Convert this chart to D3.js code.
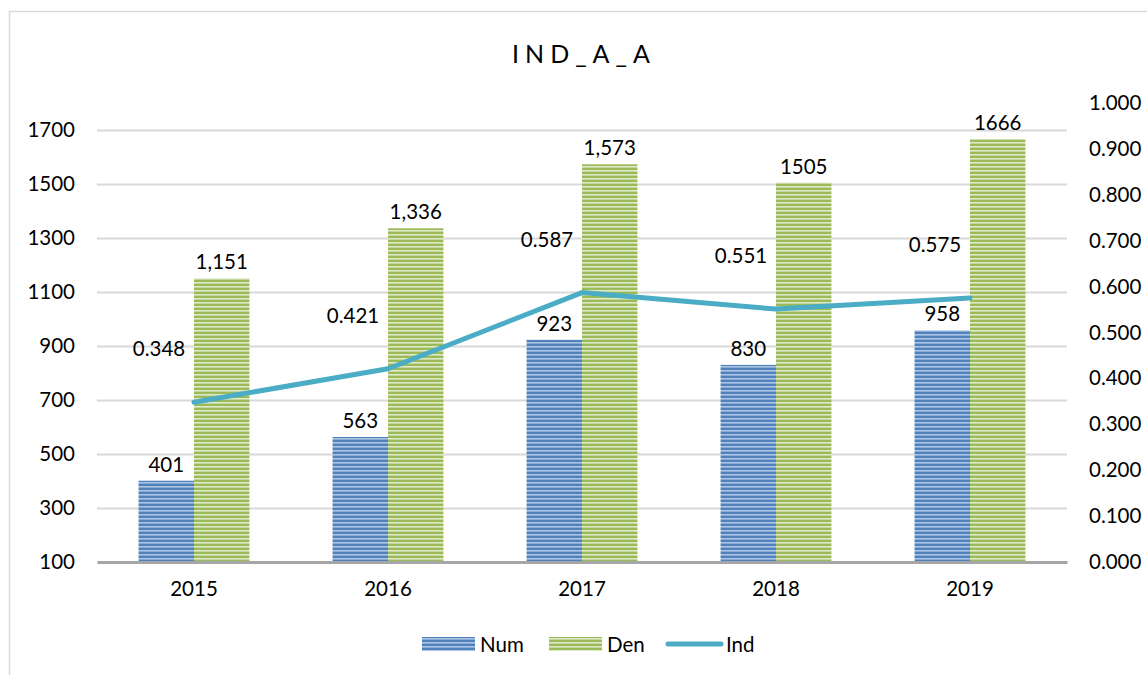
<!DOCTYPE html>
<html>
<head>
<meta charset="utf-8">
<script src="https://cdn.jsdelivr.net/npm/d3@7"></script>
<style>
  body { margin: 0; background: #fff; }
  svg { display: block; font-family: Lato, "Open Sans", sans-serif; }
</style>
</head>
<body>
<div id="chart"></div>
<script>
// Data
var years = ["2015", "2016", "2017", "2018", "2019"];
var numValues = [401, 563, 923, 830, 958];
var denValues = [1151, 1336, 1573, 1505, 1666];
var indValues = [0.348, 0.421, 0.587, 0.551, 0.575];
var numLabels = ["401", "563", "923", "830", "958"];
var denLabels = ["1,151", "1,336", "1,573", "1505", "1666"];
var indLabels = ["0.348", "0.421", "0.587", "0.551", "0.575"];
var leftTicks = [100, 300, 500, 700, 900, 1100, 1300, 1500, 1700];
var rightTicks = [0, 0.1, 0.2, 0.3, 0.4, 0.5, 0.6, 0.7, 0.8, 0.9, 1.0];

var width = 1147, height = 675;
var plotLeft = 97, plotRight = 1067, plotTop = 103, plotBottom = 562;
var fs = 20.5;

var svg = d3.select("#chart").append("svg")
  .attr("width", width)
  .attr("height", height);

// stripe patterns for the bars
var defs = svg.append("defs");
function stripes(id, dark, light) {
  var p = defs.append("pattern")
    .attr("id", id)
    .attr("patternUnits", "userSpaceOnUse")
    .attr("width", 8).attr("height", 4);
  p.append("rect").attr("width", 8).attr("height", 4).attr("fill", dark);
  p.append("rect").attr("y", 2).attr("width", 8).attr("height", 1.6).attr("fill", light);
}
stripes("numFill", "#4f81bd", "#adc5e3");
stripes("denFill", "#9bbb59", "#e0eacb");

// outer frame
svg.append("rect")
  .attr("x", 9.5).attr("y", 11.5)
  .attr("width", 1160).attr("height", 700)
  .attr("fill", "none")
  .attr("stroke", "#d9d9d9")
  .attr("stroke-width", 1.5);

// scales
var x = d3.scaleBand().domain(years).range([plotLeft, plotRight]);
var xInner = d3.scaleBand().domain(["num", "den"]).range([0, x.bandwidth()]).paddingOuter(0.75).paddingInner(0);
var yLeft = d3.scaleLinear().domain([100, 1800]).range([plotBottom, plotTop]);
var yRight = d3.scaleLinear().domain([0, 1]).range([plotBottom, plotTop]);

// gridlines
svg.append("g")
  .attr("transform", "translate(" + plotLeft + ",0)")
  .call(d3.axisLeft(yLeft).tickValues(leftTicks.slice(1)).tickSize(-(plotRight - plotLeft)).tickFormat(""))
  .call(function(g) {
    g.select(".domain").remove();
    g.selectAll("line").attr("stroke", "#d9d9d9").attr("stroke-width", 2);
  });

// left axis labels
svg.append("g")
  .attr("transform", "translate(" + plotLeft + ",0)")
  .call(d3.axisLeft(yLeft).tickValues(leftTicks).tickSize(0).tickPadding(22).tickFormat(d3.format("d")))
  .call(function(g) {
    g.select(".domain").remove();
    g.selectAll("text").attr("font-size", fs).attr("fill", "#000").attr("font-family", "Lato, sans-serif");
  });

// right axis labels
svg.append("g")
  .attr("transform", "translate(" + plotRight + ",0)")
  .call(d3.axisRight(yRight).tickValues(rightTicks).tickSize(0).tickPadding(22).tickFormat(d3.format(".3f")))
  .call(function(g) {
    g.select(".domain").remove();
    g.selectAll("text").attr("font-size", fs).attr("fill", "#000").attr("font-family", "Lato, sans-serif");
  });

// bars
var groups = svg.append("g").selectAll("g")
  .data(years)
  .join("g")
  .attr("transform", function(d) { return "translate(" + x(d) + ",0)"; });

groups.append("rect")
  .attr("x", xInner("num"))
  .attr("width", xInner.bandwidth())
  .attr("y", function(d, i) { return yLeft(numValues[i]); })
  .attr("height", function(d, i) { return plotBottom - yLeft(numValues[i]); })
  .attr("fill", "url(#numFill)");

groups.append("rect")
  .attr("x", xInner("den"))
  .attr("width", xInner.bandwidth())
  .attr("y", function(d, i) { return yLeft(denValues[i]); })
  .attr("height", function(d, i) { return plotBottom - yLeft(denValues[i]); })
  .attr("fill", "url(#denFill)");

groups.append("text")
  .attr("x", xInner("num") + xInner.bandwidth() / 2)
  .attr("y", function(d, i) { return yLeft(numValues[i]) - 9; })
  .attr("text-anchor", "middle")
  .attr("font-size", fs)
  .text(function(d, i) { return numLabels[i]; });

groups.append("text")
  .attr("x", xInner("den") + xInner.bandwidth() / 2)
  .attr("y", function(d, i) { return yLeft(denValues[i]) - 9; })
  .attr("text-anchor", "middle")
  .attr("font-size", fs)
  .text(function(d, i) { return denLabels[i]; });

// x axis baseline + labels
svg.append("g")
  .attr("transform", "translate(0," + plotBottom + ")")
  .call(d3.axisBottom(x).tickSize(0).tickPadding(19))
  .call(function(g) {
    g.select(".domain").attr("stroke", "#a6a6a6").attr("stroke-width", 3);
    g.selectAll("text").attr("font-size", fs).attr("fill", "#000").attr("font-family", "Lato, sans-serif");
  });

// Ind line
var line = d3.line()
  .x(function(d, i) { return x(years[i]) + x.bandwidth() / 2; })
  .y(function(d) { return yRight(d); });

svg.append("path")
  .datum(indValues)
  .attr("d", line)
  .attr("fill", "none")
  .attr("stroke", "#4bacc6")
  .attr("stroke-width", 5)
  .attr("stroke-linejoin", "round")
  .attr("stroke-linecap", "round");

svg.append("g").selectAll("text")
  .data(indValues)
  .join("text")
  .attr("x", function(d, i) { return x(years[i]) + x.bandwidth() / 2 - 35; })
  .attr("y", function(d) { return yRight(d) - 46; })
  .attr("text-anchor", "middle")
  .attr("font-size", fs)
  .text(function(d, i) { return indLabels[i]; });

// title
svg.append("text")
  .attr("x", 584)
  .attr("y", 63)
  .attr("text-anchor", "middle")
  .attr("font-size", 25)
  .attr("letter-spacing", 6)
  .attr("fill", "#000")
  .text("IND_A_A");

// legend
var legend = svg.append("g");
legend.append("rect").attr("x", 422).attr("y", 637).attr("width", 53).attr("height", 14).attr("fill", "url(#numFill)");
legend.append("text").attr("x", 480).attr("y", 652).attr("font-size", fs).text("Num");
legend.append("rect").attr("x", 549).attr("y", 637).attr("width", 53).attr("height", 14).attr("fill", "url(#denFill)");
legend.append("text").attr("x", 607).attr("y", 652).attr("font-size", fs).text("Den");
legend.append("line").attr("x1", 668).attr("x2", 721).attr("y1", 644).attr("y2", 644)
  .attr("stroke", "#4bacc6").attr("stroke-width", 5).attr("stroke-linecap", "round");
legend.append("text").attr("x", 726).attr("y", 652).attr("font-size", fs).text("Ind");
</script>
</body>
</html>
